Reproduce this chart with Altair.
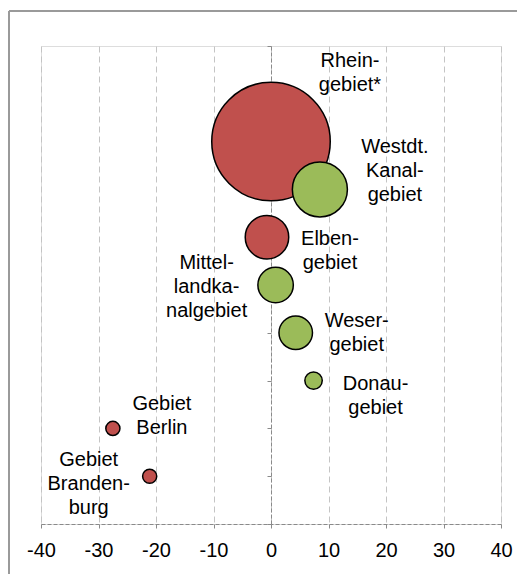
import altair as alt
import pandas as pd

# ---- data ----
names = ["Rheingebiet*", "Westdt. Kanalgebiet", "Elbengebiet", "Mittellandkanalgebiet",
         "Wesergebiet", "Donaugebiet", "Gebiet Berlin", "Gebiet Brandenburg"]
labels = ["Rhein-\ngebiet*", "Westdt.\nKanal-\ngebiet", "Elben-\ngebiet",
          "Mittel-\nlandka-\nnalgebiet", "Weser-\ngebiet", "Donau-\ngebiet",
          "Gebiet\nBerlin", "Gebiet\nBranden-\nburg"]
change = [0.0, 8.5, -0.7, 0.8, 4.3, 7.4, -27.5, -21.1]
rank = [8, 7, 6, 5, 4, 3, 2, 1]
volume = [190, 41, 25.6, 17, 15.2, 4.1, 2.7, 2.7]
group = ["rot", "grün", "rot", "grün", "grün", "grün", "rot", "rot"]
x_ticks = [-40, -30, -20, -10, 0, 10, 20, 30, 40]
y_ticks = list(range(0, 11))

df = pd.DataFrame({"name": names, "label": labels, "change": change,
                   "rank": rank, "volume": volume, "group": group})

# label offsets (pixels, first text line) relative to each bubble
offsets = {
    "Rheingebiet*": (79, -81),
    "Westdt. Kanalgebiet": (75, -42),
    "Elbengebiet": (63, 2),
    "Mittellandkanalgebiet": (-69, -22),
    "Wesergebiet": (61, -12),
    "Donaugebiet": (62, 3),
    "Gebiet Berlin": (49, -24),
    "Gebiet Brandenburg": (-61, -16),
}

W, H = 460, 478
FONT = "Liberation Sans"
FS = 20

x_enc = alt.X("change:Q", scale=alt.Scale(domain=[-40, 40], nice=False),
              axis=alt.Axis(values=x_ticks, title=None, grid=True,
                            gridDash=[6, 4], gridColor="#c4c4c4", gridWidth=1,
                            domainDash=[4, 2], domainColor="#8a8a8a", domainWidth=1,
                            tickColor="#8a8a8a", tickSize=4, labelPadding=12,
                            labelFont=FONT, labelFontSize=FS, labelColor="#000000",
                            labelExpr="'' + datum.value", labelFlush=False))
y_enc = alt.Y("rank:Q", scale=alt.Scale(domain=[0, 10], nice=False),
              axis=alt.Axis(values=y_ticks, title=None, grid=False, labels=False,
                            offset=-W / 2, domainDash=[4, 2], domainColor="#8a8a8a",
                            domainWidth=1, tickColor="#8a8a8a", tickSize=4))

bubbles = alt.Chart(df).mark_point(shape="circle", filled=True, opacity=1,
                                    stroke="#000000", strokeWidth=1.5).encode(
    x=x_enc, y=y_enc,
    size=alt.Size("volume:Q", scale=alt.Scale(domain=[0, 190], range=[0, 14042], zero=True),
                  legend=None),
    color=alt.Color("group:N", scale=alt.Scale(domain=["rot", "grün"],
                                               range=["#C0504D", "#9BBB59"]), legend=None),
    order=alt.Order("volume:Q", sort="descending"),
)

text_layers = []
for n in names:
    dx, dy = offsets[n]
    text_layers.append(
        alt.Chart(df).transform_filter(alt.datum.name == n).mark_text(
            font=FONT, fontSize=FS, color="#000000", align="center", baseline="middle",
            lineBreak="\n", lineHeight=24, dx=dx, dy=dy).encode(
            x=alt.X("change:Q"), y=alt.Y("rank:Q"), text="label:N")
    )

frame_data = pd.DataFrame({"a": [0]})
frame_left = alt.Chart(frame_data).mark_rule(color="#9a9a9a", strokeWidth=2).encode(
    x=alt.value(-32), y=alt.value(-35), y2=alt.value(H + 60))
frame_top = alt.Chart(frame_data).mark_rule(color="#9a9a9a", strokeWidth=2).encode(
    x=alt.value(-32), x2=alt.value(W + 30), y=alt.value(-35))

chart = alt.layer(frame_left, frame_top, bubbles, *text_layers).properties(
    width=W, height=H,
    padding={"left": 33, "top": 38, "right": 16, "bottom": 50},
    autosize=alt.AutoSizeParams(type="none"),
).configure_view(stroke=None).configure(background="#ffffff")

chart.save("out.html", embed_options={"renderer": "svg", "actions": False})
